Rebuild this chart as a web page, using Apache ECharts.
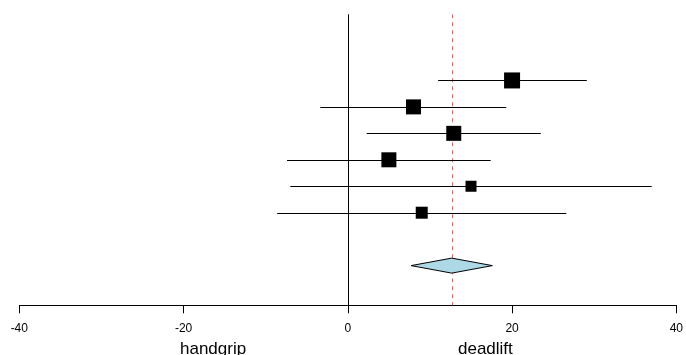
<!DOCTYPE html>
<html>
<head>
<meta charset="utf-8">
<script src="https://cdn.jsdelivr.net/npm/echarts@6/dist/echarts.min.js"></script>
<style>
  html, body { margin: 0; padding: 0; background: #fff; }
  #chart { width: 686px; height: 355px; }
</style>
</head>
<body>
<div id="chart"></div>
<script>
// study rows (top to bottom), summary diamond below
const rows = [6, 5, 4, 3, 2, 1];
const estimates = [20.0, 8.0, 12.9, 5.0, 15.0, 9.0];
const ciLow = [11.0, -3.35, 2.3, -7.4, -7.0, -8.6];
const ciHigh = [29.1, 19.3, 23.5, 17.4, 37.0, 26.6];
const weightSizes = [16, 15, 15, 15, 11, 12];

const summaryRow = -1;
const summaryEst = 12.65;
const summaryLow = 7.7;
const summaryHigh = 17.6;

const xTicks = [-40, -20, 0, 20, 40];
const yMin = -2.5;
const yMax = 8.5;

const chart = echarts.init(document.getElementById("chart"), null, { renderer: "canvas" });

const ciData = rows.map((r, i) => [ciLow[i], ciHigh[i], r]);
const pointData = rows.map((r, i) => [estimates[i], r, weightSizes[i]]);
// vertical reference lines: null effect and pooled estimate
const refLines = [[0, 0], [summaryEst, 1]];

chart.setOption({
  animation: false,
  grid: { left: 19.3, right: 6.3, top: 14.3, bottom: 49.7 },
  xAxis: {
    type: "value",
    min: xTicks[0],
    max: xTicks[xTicks.length - 1],
    interval: 20,
    splitLine: { show: false },
    axisLine: { show: true, onZero: false, lineStyle: { color: "#000", width: 1 } },
    axisTick: { show: true, length: 8, lineStyle: { color: "#000" } },
    axisLabel: { color: "#000", fontSize: 12, fontFamily: "Liberation Sans, Arial", margin: 17 }
  },
  yAxis: { type: "value", min: yMin, max: yMax, show: false },
  series: [
    {
      type: "custom",
      data: refLines,
      z: 1,
      renderItem: (params, api) => {
        const top = api.coord([api.value(0), yMax]);
        const bot = api.coord([api.value(0), yMin]);
        const x = Math.round(top[0]) + 0.5;
        const dashed = api.value(1) === 1;
        return {
          type: "line",
          shape: { x1: x, y1: top[1], x2: x, y2: bot[1] },
          style: dashed
            ? { stroke: "#ff5a5a", lineWidth: 1, lineDash: [4, 4] }
            : { stroke: "#000", lineWidth: 1 }
        };
      }
    },
    {
      type: "custom",
      data: ciData,
      z: 2,
      renderItem: (params, api) => {
        const a = api.coord([api.value(0), api.value(2)]);
        const b = api.coord([api.value(1), api.value(2)]);
        return {
          type: "line",
          shape: { x1: a[0], y1: Math.round(a[1]) + 0.5, x2: b[0], y2: Math.round(b[1]) + 0.5 },
          style: { stroke: "#000", lineWidth: 1 }
        };
      }
    },
    {
      type: "scatter",
      data: pointData,
      z: 3,
      symbol: "rect",
      symbolSize: (v) => v[2],
      itemStyle: { color: "#000", opacity: 1 }
    },
    {
      type: "custom",
      data: [[summaryLow, summaryEst, summaryHigh, summaryRow]],
      z: 4,
      renderItem: (params, api) => {
        const l = api.coord([api.value(0), api.value(3)]);
        const c = api.coord([api.value(1), api.value(3)]);
        const r = api.coord([api.value(2), api.value(3)]);
        const h = 7.5;
        return {
          type: "polygon",
          shape: { points: [[l[0], l[1]], [c[0], c[1] - h], [r[0], r[1]], [c[0], c[1] + h]] },
          style: { fill: "#add8e6", stroke: "#000", lineWidth: 1 }
        };
      }
    }
  ],
  graphic: [
    {
      type: "text",
      left: 180, top: 341,
      style: { text: "handgrip", fontSize: 17, fontFamily: "Liberation Sans, Arial", fill: "#000" }
    },
    {
      type: "text",
      left: 458, top: 341,
      style: { text: "deadlift", fontSize: 17, fontFamily: "Liberation Sans, Arial", fill: "#000" }
    }
  ]
});
</script>
</body>
</html>
